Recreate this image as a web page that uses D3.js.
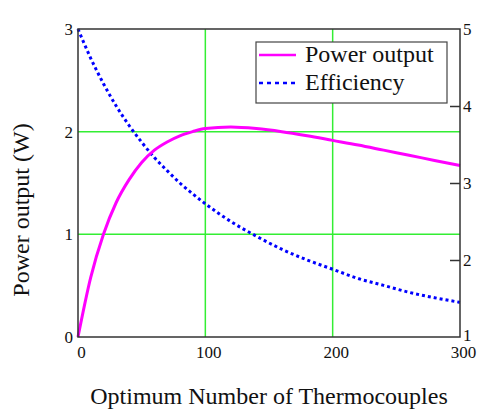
<!DOCTYPE html>
<html>
<head>
<meta charset="utf-8">
<script src="https://cdn.jsdelivr.net/npm/d3@7"></script>
<style>
  html, body { margin: 0; padding: 0; background: #fff; }
  svg { display: block; }
  text { font-family: "Liberation Serif", "Times New Roman", serif; fill: #111; }
</style>
</head>
<body>
<svg id="chart" width="478" height="415"></svg>
<script>
// ---- data ----
const thermocouples = [0, 10, 20, 30, 40, 50, 60, 70, 80, 90, 100, 120, 140, 160, 180, 200, 220, 240, 260, 280, 300];
const powerOutput   = [0, 0.58, 1.00, 1.31, 1.53, 1.70, 1.82, 1.90, 1.96, 2.00, 2.03, 2.045, 2.03, 2.00, 1.96, 1.915, 1.87, 1.82, 1.77, 1.72, 1.67];
const efficiency    = [5.00, 4.62, 4.29, 4.00, 3.75, 3.53, 3.33, 3.16, 3.00, 2.86, 2.73, 2.50, 2.31, 2.14, 2.00, 1.88, 1.76, 1.67, 1.58, 1.51, 1.45];
const xTicks      = [0, 100, 200, 300];
const yLeftTicks  = [0, 1, 2, 3];
const yRightTicks = [1, 2, 3, 4, 5];
const seriesNames = ["Power output", "Efficiency"];
const xTitle = "Optimum Number of Thermocouples";
const yTitle = "Power output (W)";

// ---- layout ----
const L = 78, R = 460, T = 29, B = 337;
const svg = d3.select("#chart");

const x  = d3.scaleLinear().domain([0, 300]).range([L, R]);
const yL = d3.scaleLinear().domain([0, 3]).range([B, T]);
const yR = d3.scaleLinear().domain([1, 5]).range([B, T]);
const fmt = d3.format("d");

// grid lines (green)
const grid = svg.append("g").attr("stroke", "#33ee33").attr("stroke-width", 1.5);
grid.selectAll("line.gx").data(xTicks.filter(d => d > 0 && d < 300)).join("line")
  .attr("x1", d => x(d)).attr("x2", d => x(d)).attr("y1", T).attr("y2", B);
grid.selectAll("line.gy").data(yLeftTicks.filter(d => d > 0 && d < 3)).join("line")
  .attr("x1", L).attr("x2", R).attr("y1", d => yL(d)).attr("y2", d => yL(d));

// curves
const data = thermocouples.map((n, i) => ({ n, p: powerOutput[i], e: efficiency[i] }));

svg.append("path").datum(data)
  .attr("fill", "none").attr("stroke", "#0000ff").attr("stroke-width", 3)
  .attr("stroke-dasharray", "3,3")
  .attr("d", d3.line().x(d => x(d.n)).y(d => yR(d.e)).curve(d3.curveMonotoneX));

svg.append("path").datum(data)
  .attr("fill", "none").attr("stroke", "#ff00ff").attr("stroke-width", 3)
  .attr("d", d3.line().x(d => x(d.n)).y(d => yL(d.p)).curve(d3.curveMonotoneX));

// frame
svg.append("rect").attr("x", L).attr("y", T).attr("width", R - L).attr("height", B - T)
  .attr("fill", "none").attr("stroke", "#333").attr("stroke-width", 1.5);

// axes via d3 axis generators
const axB = svg.append("g").attr("transform", `translate(0,${B})`)
  .call(d3.axisBottom(x).tickValues(xTicks).tickFormat(fmt).tickSize(0).tickPadding(9));
axB.select(".domain").remove();
axB.selectAll("text").attr("font-size", 17).attr("dx", 3).attr("fill", "#111");

const axL = svg.append("g").attr("transform", `translate(${L},0)`)
  .call(d3.axisLeft(yL).tickValues(yLeftTicks).tickFormat(fmt).tickSize(0).tickPadding(5));
axL.select(".domain").remove();
axL.selectAll("text").attr("font-size", 17).attr("fill", "#111");

const axR = svg.append("g").attr("transform", `translate(${R},0)`)
  .call(d3.axisRight(yR).tickValues(yRightTicks).tickFormat(fmt).tickSize(0).tickPadding(3));
axR.select(".domain").remove();
axR.selectAll("text").attr("font-size", 17).attr("fill", "#111");
axR.selectAll(".tick text").attr("dy", d => d === 1 ? "0.2em" : "0.32em");
// inner ticks on right axis
axR.selectAll(".tick line").attr("x2", d => (d > 1 && d < 5) ? -10 : 0).attr("stroke", "#333").attr("stroke-width", 1.5);

// axis titles
svg.append("text").attr("x", 269).attr("y", 404).attr("text-anchor", "middle")
  .attr("font-size", 24).text(xTitle);
svg.append("text").attr("transform", `translate(29,210) rotate(-90)`).attr("text-anchor", "middle")
  .attr("font-size", 24).text(yTitle);

// legend
const lg = svg.append("g");
lg.append("rect").attr("x", 256).attr("y", 42).attr("width", 191).attr("height", 61)
  .attr("fill", "#fff").attr("stroke", "#444").attr("stroke-width", 1.2);
const legendStyles = [
  { color: "#ff00ff", dash: null },
  { color: "#0000ff", dash: "4,4" }
];
seriesNames.forEach((name, i) => {
  const yy = 55 + i * 28;
  lg.append("line").attr("x1", 259).attr("x2", 296).attr("y1", yy).attr("y2", yy)
    .attr("stroke", legendStyles[i].color).attr("stroke-width", 2.5)
    .attr("stroke-dasharray", legendStyles[i].dash);
  lg.append("text").attr("x", 305).attr("y", yy + 7).attr("font-size", 24).text(name);
});
</script>
</body>
</html>
